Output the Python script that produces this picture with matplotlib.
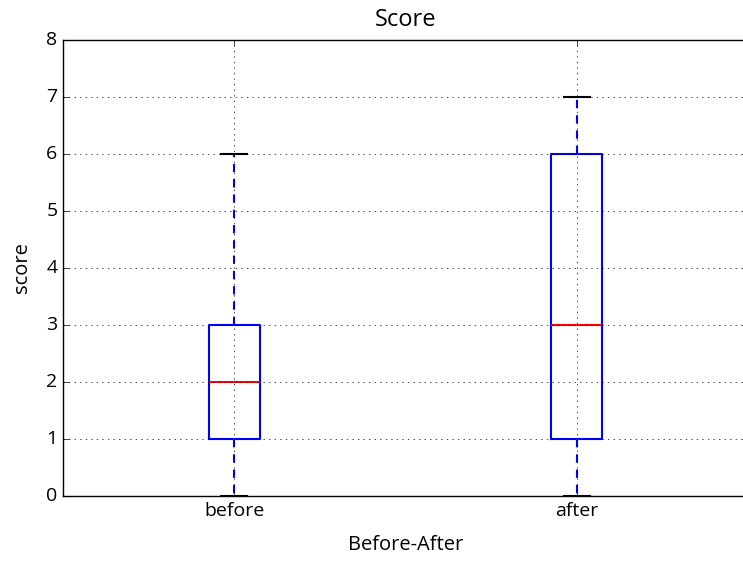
import matplotlib
matplotlib.use("Agg")
import matplotlib.pyplot as plt

# =========================================
# DATA (box stats)
# =========================================

labels = ["before", "after"]
whisker_low = [0, 0]
q1 = [1, 1]
median = [2, 3]
q3 = [3, 6]
whisker_high = [6, 7]

stats = []
for i in range(len(labels)):
    stats.append({
        "label": labels[i],
        "whislo": whisker_low[i],
        "q1": q1[i],
        "med": median[i],
        "q3": q3[i],
        "whishi": whisker_high[i],
        "fliers": [],
    })

# =========================================
# PLOT
# =========================================

plt.style.use("classic")
plt.rcParams["font.family"] = ["Open Sans", "DejaVu Sans"]

fig = plt.figure(figsize=(7.43, 5.61), dpi=100)
ax = fig.add_axes([63 / 743, 65 / 561, 685 / 743, 456 / 561])

ax.bxp(
    stats,
    showfliers=False,
    boxprops=dict(color="b", linewidth=1.5),
    whiskerprops=dict(color="b", linewidth=1.5, linestyle=(0, (6, 5))),
    capprops=dict(color="k", linewidth=1.5),
    medianprops=dict(color="r", linewidth=1.5),
)

ax.set_ylim(0, 8)
ax.set_xlim(0.5, 2.5)
ax.grid(True)

ax.tick_params(labelsize=14)
ax.set_title("Score", fontsize=17, pad=10)
ax.set_xlabel("Before-After", fontsize=14.5, labelpad=11)
ax.set_ylabel("score", fontsize=14.5, labelpad=10)

fig.savefig("out.png", dpi=100)
